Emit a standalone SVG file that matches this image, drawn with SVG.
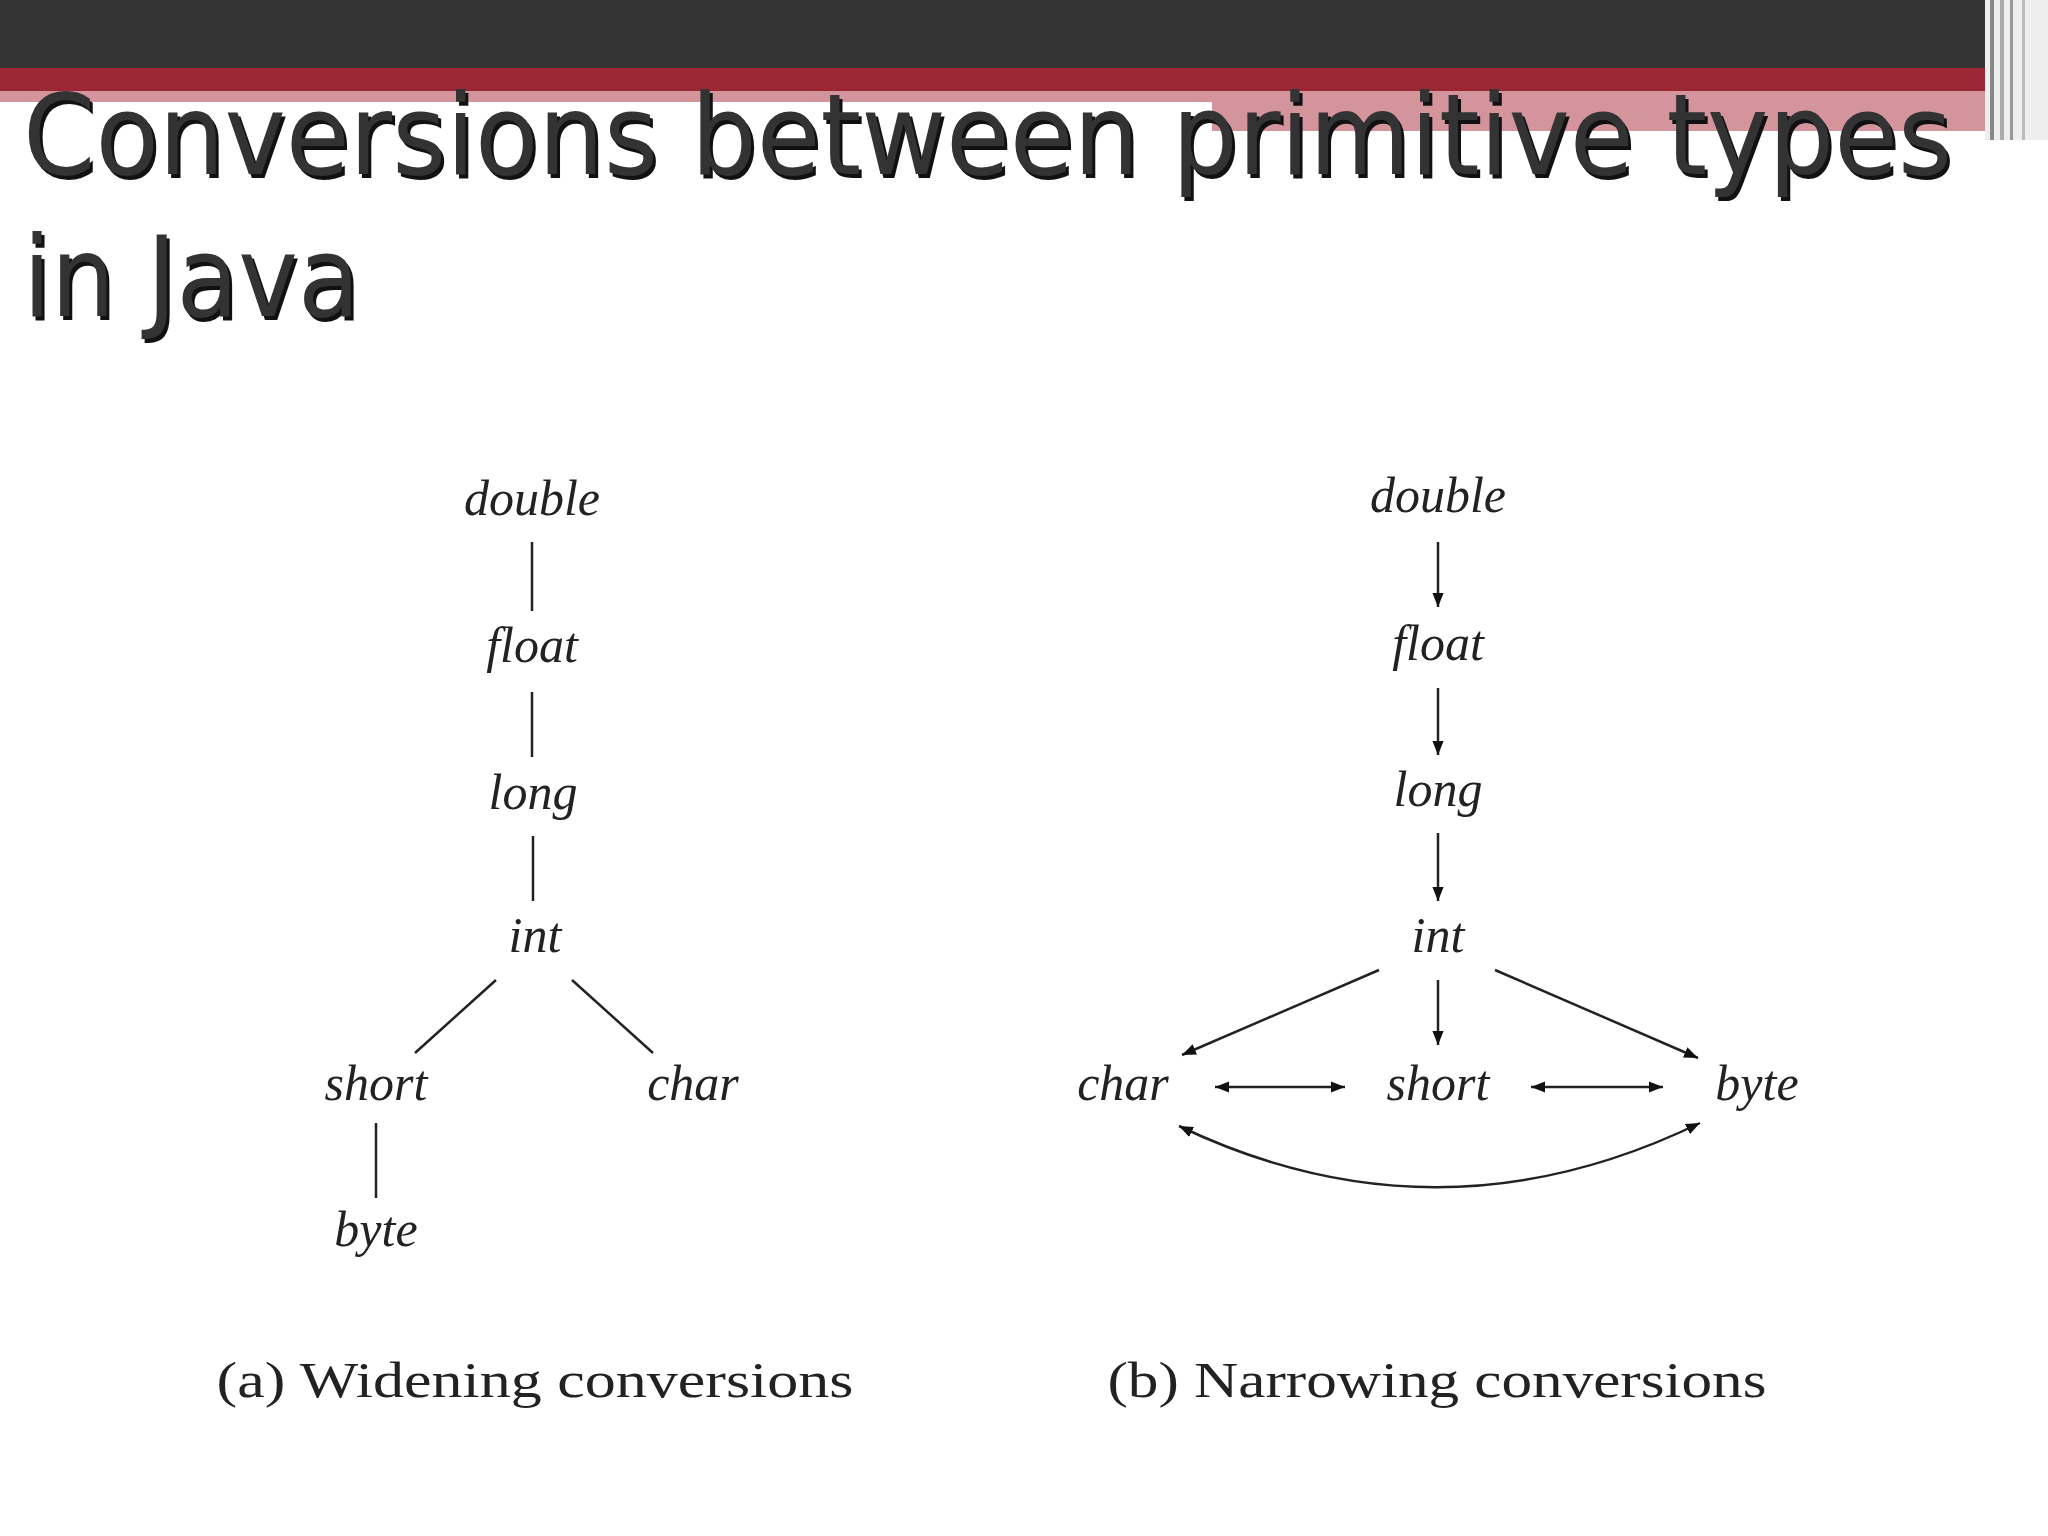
<svg xmlns="http://www.w3.org/2000/svg" width="2048" height="1536" viewBox="0 0 2048 1536">
<style>
.t{font-family:"DejaVu Sans Condensed","DejaVu Sans",sans-serif;font-size:112px;}
.n{font-family:"Liberation Serif",serif;font-style:italic;font-size:50px;fill:#222;text-anchor:middle;}
.c{font-family:"Liberation Serif",serif;font-size:50px;fill:#222;text-anchor:middle;}
.e{stroke:#222;stroke-width:2.5;fill:none;}
</style>
<defs>
<marker id="a" viewBox="0 0 10 10" refX="10" refY="5" markerWidth="14" markerHeight="14" markerUnits="userSpaceOnUse" orient="auto-start-reverse"><path d="M0,1 L10,5 L0,9 z" fill="#111"/></marker>
</defs>
<rect width="2048" height="1536" fill="#fff"/>
<g id="header">
<rect x="0" y="0" width="2048" height="68" fill="#333"/>
<rect x="0" y="68" width="2048" height="23" fill="#9b2735"/>
<rect x="0" y="91" width="1212" height="11" fill="#d4949c"/>
<rect x="1212" y="91" width="780" height="40" fill="#d4949c"/>
<rect x="1985" y="0" width="63" height="140" fill="#eee"/>
<rect x="1990" y="0" width="4" height="140" fill="#888"/>
<rect x="2000" y="0" width="4" height="140" fill="#aaa"/>
<rect x="2010" y="0" width="3" height="140" fill="#999"/>
<rect x="2022" y="0" width="3" height="140" fill="#bbb"/>
</g>
<g id="title">
<text class="t" x="26" y="178" fill="#111" textLength="1929" lengthAdjust="spacingAndGlyphs">Conversions between primitive types</text>
<text class="t" x="23" y="174" fill="#333" textLength="1929" lengthAdjust="spacingAndGlyphs">Conversions between primitive types</text>
<text class="t" x="26" y="320" fill="#111">in Java</text>
<text class="t" x="23" y="316" fill="#333">in Java</text>
</g>
<g id="connectors">
<line class="e" x1="532" y1="542" x2="532" y2="611"/>
<line class="e" x1="532" y1="692" x2="532" y2="757"/>
<line class="e" x1="533" y1="836" x2="533" y2="901"/>
<line class="e" x1="496" y1="980" x2="415" y2="1053"/>
<line class="e" x1="572" y1="980" x2="653" y2="1053"/>
<line class="e" x1="376" y1="1123" x2="376" y2="1198"/>
<line class="e" x1="1438" y1="542" x2="1438" y2="607" marker-end="url(#a)"/>
<line class="e" x1="1438" y1="688" x2="1438" y2="755" marker-end="url(#a)"/>
<line class="e" x1="1438" y1="833" x2="1438" y2="901" marker-end="url(#a)"/>
<line class="e" x1="1438" y1="980" x2="1438" y2="1045" marker-end="url(#a)"/>
<line class="e" x1="1379" y1="970" x2="1182" y2="1055" marker-end="url(#a)"/>
<line class="e" x1="1495" y1="970" x2="1698" y2="1058" marker-end="url(#a)"/>
<line class="e" x1="1215" y1="1087" x2="1345" y2="1087" marker-start="url(#a)" marker-end="url(#a)"/>
<line class="e" x1="1531" y1="1087" x2="1663" y2="1087" marker-start="url(#a)" marker-end="url(#a)"/>
<path class="e" d="M1179,1126 Q1438,1250 1700,1123" marker-start="url(#a)" marker-end="url(#a)"/>
</g>
<g id="left">
<text class="n" x="532" y="515">double</text>
<text class="n" x="532" y="662">float</text>
<text class="n" x="533" y="809">long</text>
<text class="n" x="535" y="952">int</text>
<text class="n" x="376" y="1100">short</text>
<text class="n" x="693" y="1100">char</text>
<text class="n" x="376" y="1246">byte</text>
<text class="c" x="535" y="1397" textLength="637" lengthAdjust="spacingAndGlyphs">(a) Widening conversions</text>
</g>
<g id="right">
<text class="n" x="1438" y="512">double</text>
<text class="n" x="1438" y="660">float</text>
<text class="n" x="1438" y="806">long</text>
<text class="n" x="1438" y="952">int</text>
<text class="n" x="1123" y="1100">char</text>
<text class="n" x="1438" y="1100">short</text>
<text class="n" x="1757" y="1100">byte</text>
<text class="c" x="1437" y="1397" textLength="659" lengthAdjust="spacingAndGlyphs">(b) Narrowing conversions</text>
</g>
</svg>
